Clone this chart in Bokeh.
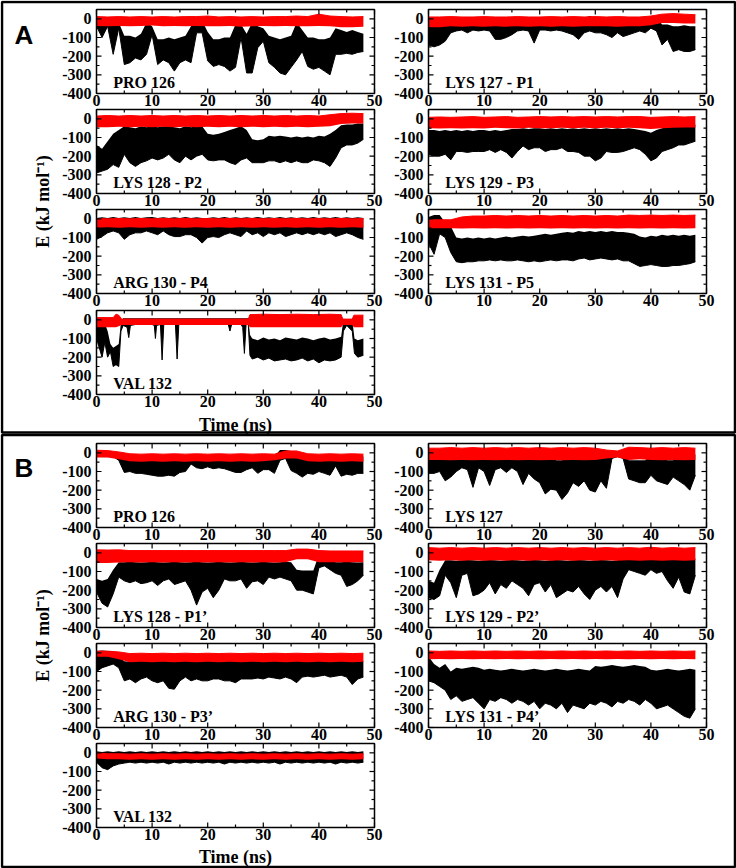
import math
from bokeh.plotting import figure
from bokeh.models import Range1d
from bokeh.core.properties import value
from bokeh.embed import file_html
from bokeh.resources import INLINE

# ---------------- data (kJ/mol vs ns) ----------------
T1 = [0, 1, 2, 3, 4, 5, 6, 7, 8, 9, 10, 11, 12, 13, 14, 15, 16, 17, 18, 19,
      20, 21, 22, 23, 24, 25, 26, 27, 28, 29, 30, 31, 32, 33, 34, 35, 36, 37, 38, 39,
      40, 41, 42, 43, 44, 45, 46, 47, 48]
T2 = [0, 2, 4, 6, 8, 10, 12, 14, 16, 18, 20, 22, 24, 26, 28, 30, 32, 34, 36, 38,
      40, 42, 44, 46, 48]

x_ticks = [0, 10, 20, 30, 40, 50]
x_minor = [5, 15, 25, 35, 45]
x_tick_labels = ["0", "10", "20", "30", "40", "50"]
y_ticks = [-400, -300, -200, -100, 0]
y_minor = [-350, -250, -150, -50]
y_tick_labels = ["-400", "-300", "-200", "-100", "0"]

titles_A = ["PRO 126", "LYS 127 - P1", "LYS 128 - P2", "LYS 129 - P3",
            "ARG 130 - P4", "LYS 131 - P5", "VAL 132"]
titles_B = ["PRO 126", "LYS 127", "LYS 128 - P1\u2019", "LYS 129 - P2\u2019",
            "ARG 130 - P3\u2019", "LYS 131 - P4\u2019", "VAL 132"]

# ---- Panel A ----
a1_lo = [-40, -100, -40, -190, -50, -245, -235, -210, -220, -190,
         -85, -245, -220, -235, -280, -235, -220, -235, -75, -75,
         -225, -255, -245, -255, -280, -260, -100, -290, -290, -155,
         -120, -235, -260, -290, -300, -260, -220, -175, -255, -270,
         -260, -280, -300, -190, -190, -185, -190, -180, -175]
a1_hi = [-10, -20, -20, -30, -20, -90, -90, -100, -80, -20,
         -40, -110, -110, -100, -110, -100, -90, -40, -10, -10,
         -70, -110, -110, -100, -100, -30, -30, -80, -20, -40,
         -50, -90, -100, -110, -100, -90, -20, -60, -100, -100,
         -110, -110, -100, -50, -60, -70, -60, -70, -80]
a1_rhi = [12, 10, 12, 10, 12, 10, 12, 10, 12, 12, 15, 10, 12, 10, 12, 10, 12, 12, 15, 12, 25, 15, 12, 10, 12]
a1_rlo = [-38, -40, -38, -40, -38, -36, -40, -38, -40, -38, -40, -40, -38, -42, -40, -38, -40, -38, -40, -40, -38, -40, -45, -45, -42]

a2_lo = [-140, -150, -140, -120, -75, -65, -60, -75, -60, -65,
         -60, -65, -110, -110, -100, -85, -65, -60, -65, -130,
         -60, -60, -65, -60, -65, -75, -85, -110, -75, -65,
         -75, -75, -85, -100, -75, -95, -85, -75, -65, -75,
         -50, -65, -140, -110, -175, -165, -175, -175, -165]
a2_hi = [-20, -25, -30, -30, -5, 0, 5, -5, 0, 5,
         0, 0, -5, 0, 5, 0, 0, 5, 0, -5,
         0, 5, 0, -5, 0, 5, 5, 0, 5, 15,
         5, 0, 5, 0, -5, 0, 5, 0, 0, 5,
         5, 10, -30, -30, -40, -40, -35, -40, -40]
a2_rhi = [10, 10, 12, 10, 10, 12, 10, 10, 12, 10, 10, 12, 10, 12, 10, 12, 10, 12, 10, 10, 15, 25, 28, 25, 22]
a2_rlo = [-45, -45, -40, -42, -40, -42, -40, -42, -40, -42, -40, -42, -40, -42, -40, -40, -40, -42, -40, -40, -35, -22, -22, -25, -25]

a3_lo = [-290, -280, -270, -245, -260, -190, -235, -255, -235, -225,
         -210, -220, -210, -190, -220, -235, -200, -220, -200, -190,
         -220, -225, -220, -220, -235, -245, -220, -210, -235, -235,
         -235, -225, -225, -235, -225, -235, -225, -235, -235, -220,
         -225, -235, -255, -210, -155, -140, -140, -130, -110]
a3_hi = [-140, -160, -120, -80, -60, -40, -45, -50, -40, -45,
         -40, -45, -40, -40, -45, -50, -40, -45, -40, -40,
         -80, -85, -80, -70, -60, -50, -40, -60, -110, -115,
         -110, -90, -95, -90, -95, -100, -95, -100, -95, -100,
         -90, -95, -80, -60, -35, -30, -30, -25, -25]
a3_rhi = [15, 18, 15, 18, 15, 18, 15, 18, 15, 18, 15, 18, 15, 18, 15, 18, 15, 18, 15, 18, 15, 22, 28, 30, 28]
a3_rlo = [-45, -45, -42, -45, -42, -45, -42, -45, -42, -45, -42, -45, -42, -45, -42, -45, -42, -45, -42, -45, -42, -40, -28, -25, -25]

a4_lo = [-190, -200, -200, -190, -220, -175, -175, -180, -175, -175,
         -175, -165, -180, -165, -180, -210, -175, -145, -165, -155,
         -155, -175, -165, -165, -155, -175, -175, -180, -200, -200,
         -225, -210, -175, -180, -180, -175, -165, -155, -165, -190,
         -225, -210, -175, -165, -155, -140, -140, -130, -120]
a4_hi = [-60, -60, -65, -60, -65, -60, -65, -60, -65, -60,
         -60, -65, -60, -65, -60, -55, -55, -50, -55, -50,
         -50, -55, -50, -55, -50, -55, -50, -55, -50, -55,
         -50, -55, -50, -55, -50, -55, -50, -55, -60, -65,
         -75, -60, -50, -45, -40, -35, -35, -30, -30]
a4_rhi = [8, 10, 8, 10, 12, 8, 10, 12, 8, 10, 12, 10, 12, 10, 12, 10, 12, 10, 12, 12, 8, 10, 12, 10, 12]
a4_rlo = [-50, -52, -50, -52, -50, -52, -48, -50, -52, -48, -50, -50, -48, -50, -48, -50, -48, -50, -48, -50, -55, -50, -48, -46, -46]

a5_lo = [-110, -95, -75, -65, -75, -110, -85, -75, -75, -65,
         -75, -85, -65, -85, -95, -95, -85, -85, -100, -130,
         -100, -95, -100, -85, -75, -85, -95, -65, -85, -75,
         -95, -75, -85, -75, -95, -85, -75, -85, -75, -85,
         -75, -85, -75, -95, -85, -75, -85, -100, -110]
a5_hi = [5, 8, 5, 10, 5, 8, 5, 10, 5, 8,
         10, 5, 8, 5, 8, 5, 10, 5, 8, 5,
         5, 8, 5, 10, 5, 8, 5, 8, 5, 10,
         5, 8, 5, 10, 5, 8, 5, 8, 5, 10,
         5, 8, 5, 10, 5, 8, 5, 8, 5]
a5_rhi = [2, 0, 2, 0, 2, 0, 2, 0, 2, 0, 2, 0, 2, 0, 2, 0, 2, 0, 2, 0, 2, 0, 2, 0, 2]
a5_rlo = [-48, -45, -48, -45, -48, -45, -48, -45, -48, -45, -48, -45, -48, -45, -48, -45, -48, -45, -48, -45, -48, -45, -48, -45, -48]

a6_lo = [-130, -190, -80, -100, -180, -230, -235, -230, -230, -225,
         -225, -220, -225, -220, -225, -225, -220, -225, -230, -225,
         -230, -225, -220, -225, -220, -220, -225, -215, -210, -220,
         -215, -210, -215, -220, -215, -225, -225, -240, -255, -250,
         -245, -250, -255, -255, -250, -250, -245, -240, -230]
a6_hi = [10, 20, 20, -20, -40, -100, -105, -100, -105, -100,
         -105, -100, -105, -100, -95, -100, -95, -90, -95, -90,
         -85, -80, -85, -80, -75, -70, -75, -65, -70, -65,
         -70, -65, -70, -65, -70, -70, -75, -80, -95, -100,
         -90, -95, -85, -90, -85, -90, -85, -90, -85]
a6_rhi = [-5, -5, -5, 10, 15, 15, 18, 15, 18, 15, 18, 15, 18, 15, 18, 15, 18, 15, 20, 18, 20, 18, 20, 18, 20]
a6_rlo = [-50, -50, -50, -52, -50, -52, -50, -52, -50, -52, -50, -52, -50, -52, -50, -52, -50, -52, -50, -52, -50, -52, -50, -52, -50]

a7_t = [0, 0.5, 1, 1.5, 2, 2.5, 3, 3.5, 4, 4.4, 4.8, 5.5, 5.8, 6.1, 7, 8, 9, 10,
        10.4, 10.6, 10.8, 11.5, 11.8, 12.1, 13, 14.2, 14.5, 14.8, 16, 18, 20, 22,
        23.7, 24, 24.3, 26, 26.3, 26.6, 26.9, 27.3, 27.6,
        28, 29, 30, 31, 32, 33, 34, 35, 36, 37, 38, 39, 40, 41, 42, 43, 44,
        44.4, 45, 46, 46.4, 47, 48]
a7_lo = [-100, -150, -200, -120, -200, -170, -250, -240, -250, -60, -30, -40, -95, -30, -25, -25, -25, -25,
         -30, -100, -30, -25, -215, -25, -20, -25, -210, -25, -20, -25, -20, -25,
         -25, -60, -25, -25, -40, -180, -25, -25, -190,
         -210, -200, -215, -205, -220, -215, -210, -220, -215, -205, -220, -210, -230, -215, -220, -215, -200,
         -60, -30, -60, -180, -200, -190]
a7_hi = [-10, -20, -30, -20, -60, -130, -150, -140, -130, -10, 8, 8, 8, 8, 8, 8, 8, 8,
         8, 8, 8, 8, 8, 8, 8, 8, 8, 8, 8, 8, 8, 8,
         8, 8, 8, 8, 8, 8, 8, 8, -80,
         -100, -110, -95, -105, -100, -110, -95, -100, -105, -95, -100, -110, -100, -95, -105, -100, -90,
         0, 5, 0, -100, -110, -100]
a7_rt = [0, 2, 3, 3.5, 4, 4.5, 8, 12, 16, 20, 24, 27.3, 27.6, 30, 33, 36, 39, 42, 44, 44.3, 46, 46.3, 48]
a7_rhi = [12, 12, 12, 30, 25, 4, 4, 4, 4, 4, 4, 4, 28, 30, 28, 30, 28, 30, 28, 4, 4, 25, 25]
a7_rlo = [-40, -40, -40, -40, -35, -28, -28, -28, -28, -28, -28, -28, -40, -40, -40, -40, -40, -40, -40, -28, -28, -40, -40]

# ---- Panel B ----
b1_lo = [-15, -20, -20, -20, -40, -105, -100, -110, -110, -115,
         -120, -125, -125, -120, -125, -105, -100, -60, -80, -85,
         -75, -85, -80, -85, -95, -105, -105, -90, -80, -110,
         -90, -90, -110, -40, -30, -95, -110, -130, -110, -115,
         -100, -110, -120, -70, -125, -115, -120, -110, -110]
b1_hi = [12, 12, -5, -10, -20, -30, -30, -32, -30, -28,
         -30, -32, -30, -28, -30, -30, -28, -20, -20, -22,
         -20, -22, -20, -18, -20, -22, -20, -18, -20, -22,
         -20, -22, -20, 15, 15, 10, -20, -22, -20, -18,
         -20, -22, -20, -18, -20, -22, -20, -18, -20]
b1_rhi = [14, 12, 5, -5, -7, -5, -7, -5, -7, -5, -7, -5, -7, -5, -7, -5, -7, 10, 10, -5, -7, -5, -7, -5, -7]
b1_rlo = [-25, -25, -35, -45, -48, -45, -48, -45, -48, -45, -48, -45, -48, -45, -48, -45, -40, -30, -30, -45, -48, -45, -48, -45, -48]

b2_lo = [-110, -110, -100, -150, -130, -100, -80, -90, -185, -80,
         -100, -175, -90, -80, -105, -80, -100, -170, -110, -140,
         -160, -220, -195, -200, -250, -215, -160, -180, -150, -200,
         -210, -150, -190, -30, -20, -30, -140, -150, -160, -160,
         -120, -150, -160, -170, -130, -150, -170, -200, -120]
b2_hi = [-10, -12, -10, -8, -10, -12, -10, -8, -10, -12,
         -10, -8, -10, -12, -10, -8, -10, -12, -10, -8,
         -10, -20, -30, -40, -40, -30, -10, -12, -10, -8,
         -10, -12, -10, 5, 5, 5, -40, -40, -40, -40,
         -10, -10, -30, -40, -40, -10, -12, -10, -8]
b2_rhi = [25, 25, 28, 25, 28, 25, 28, 25, 28, 25, 28, 25, 28, 25, 28, 25, 15, 10, 30, 28, 25, 28, 25, 28, 25]
b2_rlo = [-38, -38, -40, -38, -40, -38, -40, -38, -40, -38, -40, -38, -40, -38, -40, -38, -30, -25, -38, -35, -38, -40, -38, -40, -38]

b3_lo = [-210, -270, -290, -220, -130, -150, -160, -150, -165, -160,
         -150, -175, -150, -140, -170, -160, -150, -200, -280, -210,
         -190, -240, -200, -140, -150, -150, -140, -190, -155, -150,
         -170, -130, -140, -130, -140, -150, -200, -200, -210, -220,
         -80, -70, -90, -110, -120, -180, -170, -150, -120]
b3_hi = [-140, -150, -140, -90, -50, -50, -48, -50, -52, -50,
         -48, -50, -52, -50, -48, -50, -52, -50, -48, -50,
         -52, -50, -48, -50, -52, -50, -48, -50, -52, -50,
         -48, -50, -52, -50, -48, -50, -90, -95, -95, -95,
         -10, -10, -30, -50, -50, -48, -50, -52, -50]
b3_rhi = [16, 15, 16, 12, 12, 12, 12, 12, 12, 12, 12, 12, 12, 12, 12, 12, 12, 12, 20, 20, 12, 10, 10, 10, 10]
b3_rlo = [-55, -55, -52, -50, -52, -50, -52, -50, -52, -50, -52, -50, -52, -50, -52, -50, -52, -50, -35, -35, -50, -50, -50, -50, -50]

b4_lo = [-240, -250, -230, -120, -160, -240, -120, -110, -230, -220,
         -200, -160, -220, -170, -190, -150, -170, -190, -230, -170,
         -160, -210, -170, -240, -220, -200, -210, -180, -220, -250,
         -200, -180, -210, -180, -240, -140, -90, -100, -110, -120,
         -90, -110, -100, -150, -190, -130, -210, -220, -120]
b4_hi = [-150, -160, -90, -40, -40, -42, -40, -38, -40, -42,
         -40, -38, -40, -42, -40, -38, -40, -42, -40, -38,
         -40, -42, -40, -38, -40, -42, -40, -38, -40, -42,
         -40, -38, -40, -42, -40, -30, -30, -28, -30, -32,
         -30, -28, -30, -32, -30, -28, -30, -32, -30]
b4_rhi = [28, 25, 28, 25, 28, 25, 28, 25, 28, 25, 28, 25, 28, 25, 28, 25, 28, 25, 28, 25, 30, 25, 28, 25, 28]
b4_rlo = [-40, -42, -40, -42, -40, -42, -40, -42, -40, -42, -40, -42, -40, -42, -40, -42, -40, -42, -40, -42, -40, -42, -40, -42, -40]

b5_lo = [-100, -80, -70, -60, -80, -150, -140, -160, -140, -130,
         -150, -160, -150, -190, -195, -150, -130, -150, -140, -150,
         -150, -140, -140, -150, -150, -160, -140, -140, -140, -135,
         -140, -130, -135, -140, -130, -140, -160, -130, -125, -130,
         -125, -120, -130, -125, -120, -130, -170, -140, -130]
b5_hi = [10, 12, 10, 10, -20, -45, -48, -45, -42, -45,
         -48, -45, -42, -45, -48, -45, -42, -45, -48, -45,
         -42, -45, -48, -45, -42, -45, -48, -45, -42, -45,
         -48, -45, -42, -45, -48, -45, -42, -45, -48, -45,
         -42, -45, -48, -45, -42, -45, -48, -45, -42]
b5_rhi = [9, 9, 5, -4, -2, -4, -2, -4, -2, -4, -2, -4, -2, -4, -2, -4, -2, -4, -2, -4, -2, -4, -2, -4, -2]
b5_rlo = [-21, -21, -35, -50, -48, -50, -48, -50, -48, -50, -48, -50, -48, -50, -48, -50, -48, -50, -48, -50, -48, -50, -48, -50, -48]

b6_lo = [-150, -160, -180, -200, -250, -230, -260, -250, -240, -270,
         -300, -250, -260, -240, -250, -270, -250, -260, -280, -260,
         -300, -270, -280, -300, -270, -320, -280, -290, -300, -270,
         -280, -260, -270, -290, -260, -270, -250, -260, -280, -250,
         -270, -300, -290, -280, -300, -320, -340, -350, -300]
b6_hi = [-20, -60, -80, -60, -100, -80, -85, -80, -75, -80,
         -90, -85, -90, -95, -90, -85, -90, -95, -90, -85,
         -90, -95, -90, -85, -90, -95, -90, -85, -90, -95,
         -70, -75, -70, -65, -70, -75, -70, -65, -70, -75,
         -90, -95, -90, -85, -90, -95, -90, -85, -90]
b6_rhi = [10, 8, 10, 8, 10, 8, 10, 8, 10, 8, 10, 8, 10, 8, 10, 8, 10, 8, 10, 8, 10, 8, 10, 8, 10]
b6_rlo = [-35, -33, -35, -33, -35, -33, -35, -33, -35, -33, -35, -33, -35, -33, -35, -33, -35, -33, -35, -33, -35, -33, -35, -33, -35]

b7_lo = [-50, -80, -90, -70, -60, -55, -50, -55, -50, -55,
         -50, -55, -50, -60, -50, -55, -50, -55, -50, -55,
         -50, -55, -50, -60, -50, -55, -50, -55, -50, -55,
         -50, -55, -50, -60, -50, -55, -50, -55, -50, -55,
         -50, -55, -50, -60, -50, -55, -50, -55, -50]
b7_hi = [8, 5, 8, 5, 8, 5, 8, 5, 8, 5,
         8, 5, 8, 5, 8, 5, 8, 5, 8, 5,
         8, 5, 8, 5, 8, 5, 8, 5, 8, 5,
         8, 5, 8, 5, 8, 5, 8, 5, 8, 5,
         8, 5, 8, 5, 8, 5, 8, 5, 8]
b7_rhi = [0, -5, -5, -7, -5, -7, -5, -7, -5, -7, -5, -7, -5, -7, -5, -7, -5, -7, -5, -7, -5, -7, -5, -7, -5]
b7_rlo = [-30, -35, -35, -37, -35, -37, -35, -37, -35, -37, -35, -37, -35, -37, -35, -37, -35, -37, -35, -37, -35, -37, -35, -37, -35]

panel_A = [
    (T1, a1_lo, a1_hi, T2, a1_rlo, a1_rhi),
    (T1, a2_lo, a2_hi, T2, a2_rlo, a2_rhi),
    (T1, a3_lo, a3_hi, T2, a3_rlo, a3_rhi),
    (T1, a4_lo, a4_hi, T2, a4_rlo, a4_rhi),
    (T1, a5_lo, a5_hi, T2, a5_rlo, a5_rhi),
    (T1, a6_lo, a6_hi, T2, a6_rlo, a6_rhi),
    (a7_t, a7_lo, a7_hi, a7_rt, a7_rlo, a7_rhi),
]
panel_B = [
    (T1, b1_lo, b1_hi, T2, b1_rlo, b1_rhi),
    (T1, b2_lo, b2_hi, T2, b2_rlo, b2_rhi),
    (T1, b3_lo, b3_hi, T2, b3_rlo, b3_rhi),
    (T1, b4_lo, b4_hi, T2, b4_rlo, b4_rhi),
    (T1, b5_lo, b5_hi, T2, b5_rlo, b5_rhi),
    (T1, b6_lo, b6_hi, T2, b6_rlo, b6_rhi),
    (T1, b7_lo, b7_hi, T2, b7_rlo, b7_rhi),
]

# ---------------- layout / style ----------------
W, H = 736, 868
FW, FH = 278, 84
COL_X = [96, 428]
ROWS_A = [9, 109, 209, 310]
ROWS_B = [443, 543, 643, 743]
XLIM = (0, 50)
YLIM = (-400, 50)
SERIF = value("Liberation Serif")
SANS = value("Liberation Sans")
TICK_FS = "16px"
TITLE_FS = "16px"
LABEL_FS = "18px"

p = figure(width=W, height=H, x_range=Range1d(0, W), y_range=Range1d(H, 0),
           x_axis_location=None, y_axis_location=None, toolbar_location=None,
           output_backend="svg", min_border=0)
p.grid.visible = False
p.outline_line_color = None

# panel boxes
p.quad(left=[1.5, 1.5], right=[734.5, 734.5], top=[1.5, 434.5], bottom=[432.0, 866.5],
       fill_color=None, line_color="black", line_width=2.5)

ux = (XLIM[1] - XLIM[0]) / FW   # data units per px
uy = (YLIM[1] - YLIM[0]) / FH


def draw(x0, y0, series, title):
    t, lo, hi, rt, rlo, rhi = series
    s = p.subplot(x_source=Range1d(*XLIM), y_source=Range1d(*YLIM),
                  x_target=Range1d(x0, x0 + FW), y_target=Range1d(y0 + FH, y0))
    s.varea(x=t, y1=lo, y2=hi, fill_color="black")
    s.line(x=t, y=lo, line_color="black", line_width=1)
    s.varea(x=rt, y1=rlo, y2=rhi, fill_color="red")
    s.line(x=rt, y=rhi, line_color="red", line_width=1)
    # ticks (inward, all four sides)
    for xs, L in ((x_ticks, 5), (x_minor, 3)):
        s.segment(x0=xs, y0=[YLIM[0]] * len(xs), x1=xs, y1=[YLIM[0] + L * uy] * len(xs),
                  line_color="black", line_width=1.2)
        s.segment(x0=xs, y0=[YLIM[1]] * len(xs), x1=xs, y1=[YLIM[1] - L * uy] * len(xs),
                  line_color="black", line_width=1.2)
    for ys, L in ((y_ticks, 5), (y_minor, 3)):
        s.segment(x0=[XLIM[0]] * len(ys), y0=ys, x1=[XLIM[0] + L * ux] * len(ys), y1=ys,
                  line_color="black", line_width=1.2)
        s.segment(x0=[XLIM[1]] * len(ys), y0=ys, x1=[XLIM[1] - L * ux] * len(ys), y1=ys,
                  line_color="black", line_width=1.2)
    s.quad(left=XLIM[0], right=XLIM[1], bottom=YLIM[0], top=YLIM[1],
           fill_color=None, line_color="black", line_width=1.5)
    # tick labels
    s.text(x=x_ticks, y=[YLIM[0]] * len(x_ticks), text=x_tick_labels, y_offset=1,
           text_align="center", text_baseline="top", text_font=SERIF,
           text_font_style="bold", text_font_size=TICK_FS, text_color="black")
    s.text(x=[XLIM[0]] * len(y_ticks), y=y_ticks, text=y_tick_labels, x_offset=-5,
           text_align="right", text_baseline="middle", text_font=SERIF,
           text_font_style="bold", text_font_size=TICK_FS, text_color="black")
    s.text(x=[3.0], y=[-342], text=[title], text_align="left", text_baseline="alphabetic",
           text_font=SERIF, text_font_style="bold", text_font_size=TITLE_FS, text_color="black")


for pan, rows, titles in ((panel_A, ROWS_A, titles_A), (panel_B, ROWS_B, titles_B)):
    for i, ser in enumerate(pan):
        draw(COL_X[i % 2], rows[i // 2], ser, titles[i])

# panel letters, axis titles
p.text(x=[14, 14], y=[34, 467], text=["A", "B"], text_font=SANS, text_font_style="bold",
       text_font_size="26px", text_baseline="alphabetic", text_align="left", text_color="black")
p.text(x=[COL_X[0] + FW / 2] * 2, y=[424, 856], text=["Time (ns)", "Time (ns)"],
       text_font=SERIF, text_font_style="bold", text_font_size=LABEL_FS,
       text_align="center", text_baseline="alphabetic", text_color="black")
p.text(x=[42, 42], y=[(ROWS_A[1] + ROWS_A[2] + FH) / 2, (ROWS_B[1] + ROWS_B[2] + FH) / 2],
       text=["E (kJ mol\u207b\u00b9)", "E (kJ mol\u207b\u00b9)"], angle=math.pi / 2,
       text_font=SERIF, text_font_style="bold", text_font_size="18px",
       text_align="center", text_baseline="middle", text_color="black")

open("out.html", "w").write(file_html(p, INLINE))
